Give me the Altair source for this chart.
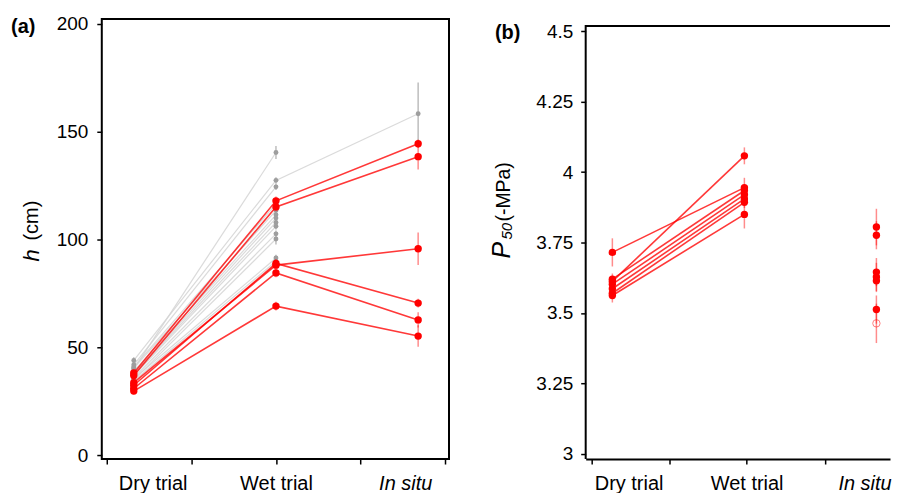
import altair as alt
import pandas as pd
import numpy as np

FONT = "Liberation Sans"
RED = "#ff0000"

categories = ["Dry trial", "Wet trial", "In situ"]
cat_x = [1, 2, 3]

# axis layout (tick marks sit between / at the category positions, as in the original)
ticks_a = [0.811, 1.407, 2.0, 2.589, 3.186]
labels_a = [1.133, 2.0, 2.909]
ticks_b = [0.841, 1.433, 2.017, 2.612]
labels_b = [1.123, 2.017, 2.91]

# ---------------- Panel (a): h (cm) ----------------
a_red_dry = [38.2, 37.0, 33.7, 32.5, 31.0, 29.8]
a_red_wet = [118.0, 115.2, 88.2, 89.0, 84.6, 69.2]
a_red_situ = [144.5, 138.5, 95.8, 70.6, 62.8, 55.3]
a_red_dry_err = [1.5, 1.5, 1.5, 1.5, 1.5, 1.5]
a_red_wet_err = [2.0, 2.0, 2.0, 2.0, 2.0, 2.0]
a_red_situ_err = [2.0, 6.0, 7.5, 2.0, 3.5, 5.0]

a_grey_dry = [40.0, 44.0, 42.0, 41.0, 40.5, 39.0, 38.0, 37.5, 37.0, 36.0, 35.0, 35.5, 34.5]
a_grey_wet = [140.4, 127.5, 124.5, 116.5, 113.5, 111.5, 110.0, 108.0, 106.2, 102.7, 100.3, 91.5, 90.0]
a_grey_situ = [None, 158.4, None, None, None, None, None, None, None, None, None, None, None]
a_grey_dry_err = [1.5] * 13
a_grey_wet_err = [3.0, 1.5, 1.5, 1.5, 1.5, 1.5, 1.5, 1.5, 1.5, 1.5, 2.5, 1.5, 1.5]
a_grey_situ_err = [None, 14.5, None, None, None, None, None, None, None, None, None, None, None]

# ---------------- Panel (b): P50 (-MPa) ----------------
b_dry = [3.715, 3.612, 3.620, 3.602, 3.586, 3.570, 3.562]
b_wet = [3.945, 4.058, 3.935, 3.920, 3.905, 3.893, 3.850]
b_situ = [3.805, 3.776, 3.645, 3.628, 3.614, 3.512, 3.463]
b_situ_open = [False, False, False, False, False, False, True]
b_dry_err = [0.05, 0.02, 0.02, 0.02, 0.02, 0.02, 0.025]
b_wet_err = [0.035, 0.03, 0.02, 0.02, 0.02, 0.02, 0.05]
b_situ_err = [0.065, 0.05, 0.05, 0.05, 0.04, 0.05, 0.07]


def long_df(series, errs, prefix):
    rows = []
    n = len(series[0])
    for i in range(n):
        for k in range(len(series)):
            v = series[k][i]
            if v is None:
                continue
            e = errs[k][i]
            rows.append({"id": f"{prefix}{i}", "x": cat_x[k], "y": v,
                         "lo": v - e, "hi": v + e})
    return pd.DataFrame(rows)


a_red = long_df([a_red_dry, a_red_wet, a_red_situ],
                [a_red_dry_err, a_red_wet_err, a_red_situ_err], "r")
a_grey = long_df([a_grey_dry, a_grey_wet, a_grey_situ],
                 [a_grey_dry_err, a_grey_wet_err, a_grey_situ_err], "g")
b_tr = long_df([b_dry, b_wet], [b_dry_err, b_wet_err], "b")
b_is = pd.DataFrame({"x": [cat_x[2]] * len(b_situ), "y": b_situ,
                     "lo": np.array(b_situ) - np.array(b_situ_err),
                     "hi": np.array(b_situ) + np.array(b_situ_err),
                     "open": b_situ_open})


# ---------------- axes ----------------
def near(v):
    return f"abs(datum.value-{v})<0.004"


def x_axis(domain, ticks, labels):
    expr = ""
    for c, lx in zip(categories, labels):
        expr += f"{near(lx)} ? '{c}' : "
    expr += "''"
    no_tick = [v for v in labels if v not in ticks]
    hide = " || ".join(near(v) for v in no_tick) if no_tick else "false"
    return alt.Axis(values=sorted(set(ticks + labels)), labelExpr=expr,
                    tickOpacity={"condition": {"test": hide, "value": 0}, "value": 1},
                    labelFontStyle={"condition": {"test": near(labels[2]), "value": "italic"},
                                    "value": "normal"},
                    title=None, grid=False, labelOverlap=False, labelFlush=False,
                    domain=domain, domainColor="black", domainWidth=2,
                    tickSize=5, tickWidth=1.5, tickColor="black", labelPadding=10,
                    labelFont=FONT, labelFontSize=20, labelColor="black")


def y_axis(values, fmt, pad):
    return alt.Axis(values=values, format=fmt, title=None, grid=False, domain=False,
                    tickSize=5, tickWidth=1.5, tickColor="black", labelPadding=pad,
                    labelFont=FONT, labelFontSize=19, labelColor="black")


W_A, H = 348, 441
W_B = 305

SX_A = alt.Scale(domain=[0.775, 3.217], nice=False, zero=False)
SY_A = alt.Scale(domain=[-1.7, 202.3], nice=False, zero=False)
SX_B = alt.Scale(domain=[0.798, 3.103], nice=False, zero=False)
SY_B = alt.Scale(domain=[2.981, 4.544], nice=False, zero=False)
AX_A = x_axis(False, ticks_a, labels_a)
AY_A = y_axis([0, 50, 100, 150, 200], "d", 9)
AX_B = x_axis(True, ticks_b, labels_b)
AY_B = y_axis([3, 3.25, 3.5, 3.75, 4, 4.25, 4.5], ".2~f", 8)


def XA():
    return alt.X("x:Q", scale=SX_A, axis=AX_A)


def YA(f="y"):
    return alt.Y(f"{f}:Q", scale=SY_A, axis=AY_A)


def XB():
    return alt.X("x:Q", scale=SX_B, axis=AX_B)


def YB(f="y"):
    return alt.Y(f"{f}:Q", scale=SY_B, axis=AY_B)


def txt(t, x, y, size=20, weight="normal", style="normal", align="left", angle=0):
    return alt.Chart(pd.DataFrame({"t": [t]})).mark_text(
        font=FONT, fontSize=size, fontWeight=weight, fontStyle=style, align=align,
        baseline="middle", angle=angle, color="black"
    ).encode(text="t:N", x=alt.value(x), y=alt.value(y))


PT = 55

# ---------------- panel (a) ----------------
ga_err = alt.Chart(a_grey).mark_rule(color="#bdbdbd", strokeWidth=1.5).encode(
    x=XA(), y=YA("lo"), y2="hi:Q")
ga_line = alt.Chart(a_grey).mark_line(color="#d4d4d4", strokeWidth=1.2, opacity=0.85).encode(
    x=XA(), y=YA(), detail="id:N", order="x:Q")
ga_pt = alt.Chart(a_grey).mark_circle(color="#9e9e9e", size=24, opacity=1).encode(x=XA(), y=YA())
ra_err = alt.Chart(a_red).mark_rule(color=RED, strokeWidth=1.5, opacity=0.45).encode(
    x=XA(), y=YA("lo"), y2="hi:Q")
ra_line = alt.Chart(a_red).mark_line(color=RED, strokeWidth=1.6, opacity=0.78).encode(
    x=XA(), y=YA(), detail="id:N", order="x:Q")
ra_pt = alt.Chart(a_red).mark_circle(color=RED, size=PT, opacity=1).encode(x=XA(), y=YA())

panel_a = alt.layer(
    ga_err, ga_line, ga_pt, ra_err, ra_line, ra_pt,
    txt("(a)", -91, 8, weight="bold"),
    txt("h", -69.5, 243, size=22, style="italic", angle=270),
    txt("(cm)", -69.5, 222, size=20, angle=270),
).properties(width=W_A, height=H,
             view=alt.ViewBackground(stroke="black", strokeWidth=2))

# ---------------- panel (b) ----------------
rb_err = alt.Chart(b_tr).mark_rule(color=RED, strokeWidth=1.5, opacity=0.45).encode(
    x=XB(), y=YB("lo"), y2="hi:Q")
rb_line = alt.Chart(b_tr).mark_line(color=RED, strokeWidth=1.6, opacity=0.78).encode(
    x=XB(), y=YB(), detail="id:N", order="x:Q")
rb_pt = alt.Chart(b_tr).mark_circle(color=RED, size=PT, opacity=1).encode(x=XB(), y=YB())
is_err = alt.Chart(b_is).mark_rule(color=RED, strokeWidth=1.5, opacity=0.45).encode(
    x=XB(), y=YB("lo"), y2="hi:Q")
is_pt = alt.Chart(b_is).transform_filter("!datum.open").mark_circle(
    color=RED, size=PT, opacity=1).encode(x=XB(), y=YB())
is_open = alt.Chart(b_is).transform_filter("datum.open").mark_point(
    color=RED, size=PT, filled=False, opacity=0.5, strokeWidth=1).encode(x=XB(), y=YB())

frame_top = alt.Chart(pd.DataFrame({"t": [0]})).mark_rule(color="black", strokeWidth=2).encode(
    x=alt.value(0), x2=alt.value(W_B), y=alt.value(7))
frame_left = alt.Chart(pd.DataFrame({"t": [0]})).mark_rule(color="black", strokeWidth=2).encode(
    x=alt.value(0), y=alt.value(6), y2=alt.value(H))

panel_b = alt.layer(
    rb_err, rb_line, rb_pt, is_err, is_pt, is_open, frame_top, frame_left,
    txt("(b)", -91, 14.5, weight="bold"),
    txt("P", -84, 240, size=25, style="italic", angle=270),
    txt("50", -78.5, 221, size=15, style="italic", angle=270),
    txt("(-MPa)", -82, 203, size=19.5, angle=270),
).properties(width=W_B, height=H,
             view=alt.ViewBackground(stroke="transparent"))

chart = alt.hconcat(panel_a, panel_b, spacing=137, bounds="flush").properties(
    padding={"left": 2, "top": 4.5, "right": 0, "bottom": 0}
).configure(background="white")

chart.save("out.html", embed_options={"renderer": "svg", "actions": False})
